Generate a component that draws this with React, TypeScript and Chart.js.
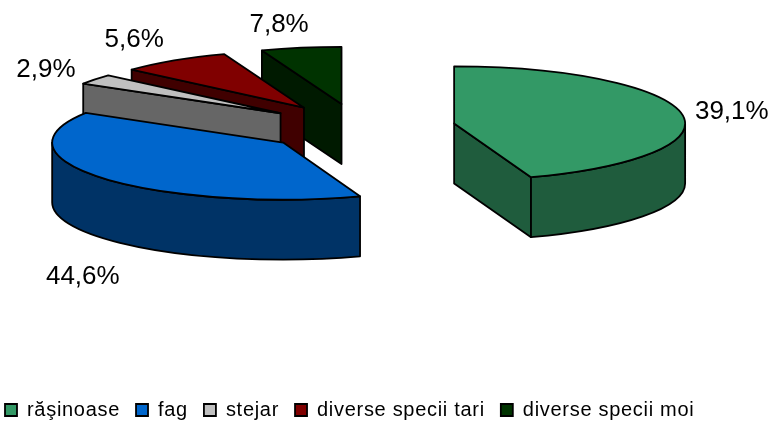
import React, { useEffect, useRef } from "react";
import { Chart, registerables } from "chart.js";

Chart.register(...registerables);

const categories = ["răşinoase", "fag", "stejar", "diverse specii tari", "diverse specii moi"];
const sliceValues = [44.6, 39.1, 2.9, 7.8, 5.6];
// Label texts as printed in the picture.
const sliceLabels = ["39,1%", "44,6%", "2,9%", "5,6%", "7,8%"];
const topColors = ["#339966", "#0066CC", "#C0C0C0", "#800000", "#003300"];
const wallColors = ["#1F5C3D", "#003366", "#666666", "#400000", "#001A00"];

const RX = 231;
const RY = 57;
const DEPTH = 60;
const CENTER_X = 358.5;
const CENTER_Y = 127.5;
const EXPLODE = 0.42;
const LABEL_SHIFT: [number, number][] = [
  [50, -2],
  [-21, 38],
  [-49, -9],
  [-40, -21],
  [-22, -23],
];
const LEGEND_SPACING = "0.7px";

const pie3d = {
  id: "pie3d",
  beforeDatasetsDraw(chart: any) {
    const ctx: CanvasRenderingContext2D = chart.ctx;
    const arcs = chart.getDatasetMeta(0).data;
    const order = [4, 3, 2, 1, 0];
    ctx.save();
    ctx.lineJoin = "round";
    ctx.strokeStyle = "#000";
    ctx.lineWidth = 1.8;
    for (const i of order) {
      const a = arcs[i];
      const s = a.startAngle;
      const e = a.endAngle;
      const mid = (s + e) / 2;
      const ax = CENTER_X + RX * EXPLODE * Math.cos(mid);
      const ay = CENTER_Y + RY * EXPLODE * Math.sin(mid);
      const px = (t: number) => ax + RX * Math.cos(t);
      const py = (t: number) => ay + RY * Math.sin(t);

      const fillStroke = (col: string) => {
        ctx.fillStyle = col;
        ctx.fill();
        ctx.stroke();
      };
      // radial faces that look towards the viewer
      const radial = (t: number) => {
        ctx.beginPath();
        ctx.moveTo(ax, ay);
        ctx.lineTo(px(t), py(t));
        ctx.lineTo(px(t), py(t) + DEPTH);
        ctx.lineTo(ax, ay + DEPTH);
        ctx.closePath();
        fillStroke(wallColors[i]);
      };
      if (Math.sin(s - Math.PI / 2) > 0) radial(s);
      if (Math.sin(e + Math.PI / 2) > 0) radial(e);

      // curved outer wall: only the part that faces the viewer
      const lo = Math.max(s, 0);
      const hi = Math.min(e, Math.PI);
      if (hi > lo) {
        ctx.beginPath();
        ctx.ellipse(ax, ay, RX, RY, 0, lo, hi);
        ctx.ellipse(ax, ay + DEPTH, RX, RY, 0, hi, lo, true);
        ctx.closePath();
        fillStroke(wallColors[i]);
      }

      // top face
      ctx.beginPath();
      ctx.moveTo(ax, ay);
      ctx.ellipse(ax, ay, RX, RY, 0, s, e);
      ctx.closePath();
      fillStroke(topColors[i]);
    }

    // value labels
    ctx.fillStyle = "#000";
    ctx.font = '26px "Liberation Sans", Arial, sans-serif';
    ctx.textAlign = "center";
    ctx.textBaseline = "middle";
    (ctx as any).letterSpacing = "0px";
    arcs.forEach((a: any, i: number) => {
      const mid = (a.startAngle + a.endAngle) / 2;
      const ax = CENTER_X + RX * EXPLODE * Math.cos(mid);
      const ay = CENTER_Y + RY * EXPLODE * Math.sin(mid);
      const rimX = ax + RX * Math.cos(mid);
      const rimY = ay + RY * Math.sin(mid);
      ctx.fillText(sliceLabels[i], rimX + LABEL_SHIFT[i][0], rimY + LABEL_SHIFT[i][1] + (i === 1 ? DEPTH : 0));
    });
    ctx.restore();
    return false;
  },
};

const legendSpacing = {
  id: "legendSpacing",
  beforeUpdate(chart: any) {
    chart.ctx.letterSpacing = LEGEND_SPACING;
  },
  beforeLayout(chart: any) {
    chart.ctx.letterSpacing = LEGEND_SPACING;
  },
  beforeDraw(chart: any) {
    chart.ctx.letterSpacing = LEGEND_SPACING;
  },
};

export default function App() {
  const ref = useRef<HTMLCanvasElement | null>(null);
  useEffect(() => {
    document.body.style.margin = "0";
    const chart = new Chart(ref.current as HTMLCanvasElement, {
      type: "pie",
      data: {
        labels: categories,
        datasets: [
          {
            data: sliceValues,
            backgroundColor: topColors,
            borderColor: "#000",
            borderWidth: 1.8,
          },
        ],
      },
      options: {
        responsive: false,
        animation: false,
        rotation: 0,
        layout: { padding: { bottom: -9, left: -11, right: 0 } },
        plugins: {
          tooltip: { enabled: false },
          title: { display: false },
          legend: {
            position: "bottom",
            align: "start",
            labels: {
              boxWidth: 12,
              boxHeight: 12,
              padding: 16,
              color: "#000",
              font: { family: '"Liberation Sans", Arial, sans-serif', size: 20 },
            },
          },
        },
      },
      plugins: [legendSpacing, pie3d],
    } as any);
    return () => chart.destroy();
  }, []);
  return (
    <div style={{ position: "absolute", left: 0, top: 0, width: 771, height: 421, background: "#fff" }}>
      <canvas ref={ref} width={771} height={421} style={{ display: "block" }} />
    </div>
  );
}
